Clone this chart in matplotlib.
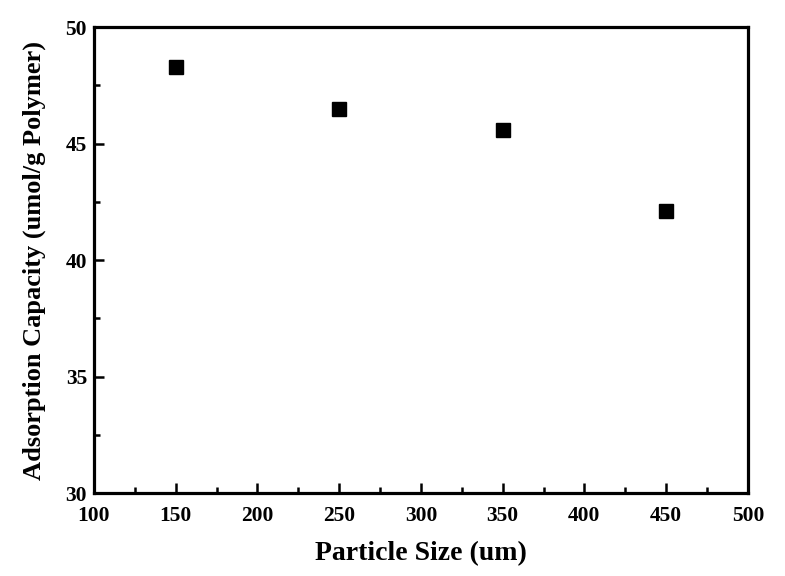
import matplotlib
matplotlib.use("Agg")
import matplotlib.pyplot as plt
from matplotlib.ticker import MultipleLocator

# data
particle_size = [150, 250, 350, 450]
adsorption = [48.3, 46.5, 45.6, 42.1]

plt.rcParams['font.family'] = ['Liberation Serif', 'DejaVu Serif']
plt.rcParams['font.weight'] = 'bold'

fig = plt.figure(figsize=(7.85, 5.76), dpi=100)
ax = fig.add_axes([0.1197, 0.144, 0.833, 0.809])

ax.plot(particle_size, adsorption, linestyle='none', marker='s',
        markersize=10, color='black')

ax.set_xlim(100, 500)
ax.set_ylim(30, 50)
ax.xaxis.set_major_locator(MultipleLocator(50))
ax.xaxis.set_minor_locator(MultipleLocator(25))
ax.yaxis.set_major_locator(MultipleLocator(5))
ax.yaxis.set_minor_locator(MultipleLocator(2.5))

for side in ax.spines.values():
    side.set_linewidth(2.3)

ax.tick_params(which='both', direction='in', top=False, right=False, width=1.8)
ax.tick_params(which='major', length=7, labelsize=15.5)
ax.tick_params(which='minor', length=4)
ax.tick_params(axis='x', pad=9)
ax.tick_params(axis='y', pad=5)

ax.set_xlabel('Particle Size (um)', fontsize=20, fontweight='bold', labelpad=11)
ax.set_ylabel('Adsorption Capacity (umol/g Polymer)', fontsize=19, fontweight='bold',
              labelpad=14)

fig.savefig('out.png', dpi=100)
